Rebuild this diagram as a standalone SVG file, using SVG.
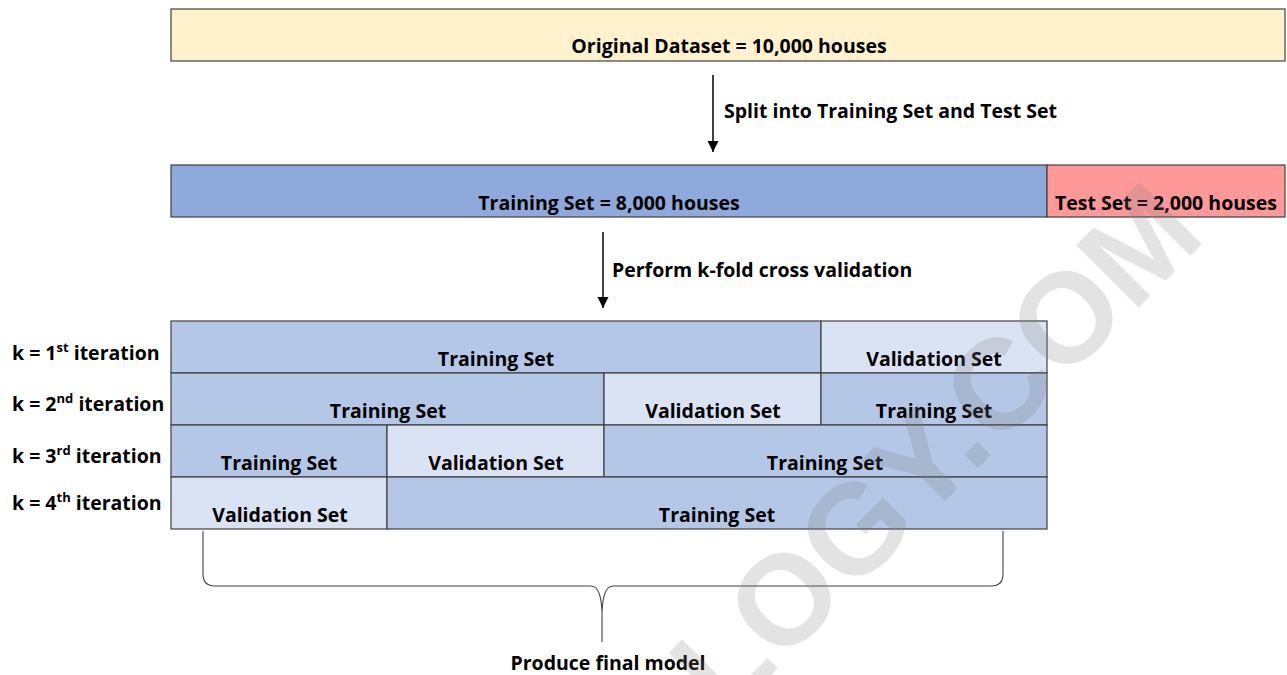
<svg xmlns="http://www.w3.org/2000/svg" width="1287" height="675" viewBox="0 0 1287 675">
  <defs>
    <style>
      .box { stroke: #404040; stroke-width: 1.2; }
      .orig { fill: #FFF2CC; }
      .train-all { fill: #8EA9DB; }
      .test { fill: #FF9999; }
      .tr { fill: #B4C7E7; }
      .va { fill: #DAE3F3; }
      .lbl { font-family: "Open Sans", Lato, sans-serif; font-weight: bold; font-size: 19.5px; fill: #000; }
      .mid { text-anchor: middle; }
      .conn { stroke: #000; stroke-width: 1.5; fill: none; }
      .brace { stroke: #404040; stroke-width: 1.1; fill: none; }
      .wm { font-family: "Liberation Sans", Arial, sans-serif; font-weight: bold; font-size: 128px; fill: #808080; fill-opacity: 0.22; }
    </style>
    <marker id="arrow" markerUnits="userSpaceOnUse" markerWidth="12" markerHeight="14" refX="11" refY="5.5" orient="auto">
      <path d="M0,0 L11,5.5 L0,11 Z" fill="#000"/>
    </marker>
  </defs>

  <rect width="1287" height="675" fill="#fff"/>

  <!-- Full dataset -->
  <g id="original-dataset">
    <rect class="box orig" x="171" y="9" width="1114" height="52"/>
    <text class="lbl mid" x="729" y="53">Original Dataset = 10,000 houses</text>
  </g>

  <!-- Train / test split -->
  <g id="training-set">
    <rect class="box train-all" x="171" y="165" width="876" height="52"/>
    <text class="lbl mid" x="609" y="210">Training Set = 8,000 houses</text>
  </g>
  <g id="test-set">
    <rect class="box test" x="1047" y="165" width="238" height="52"/>
    <text class="lbl mid" x="1166" y="210">Test Set = 2,000 houses</text>
  </g>

  <!-- Fold iterations -->
  <g id="iteration-1">
    <rect class="box tr" x="171" y="321" width="650" height="52"/>
    <rect class="box va" x="821" y="321" width="226" height="52"/>
    <text class="lbl mid" x="496" y="366">Training Set</text>
    <text class="lbl mid" x="934" y="366">Validation Set</text>
    <text class="lbl" x="12" y="360">k = 1<tspan font-size="13" dy="-8">st</tspan><tspan dy="8"> iteration</tspan></text>
  </g>
  <g id="iteration-2">
    <rect class="box tr" x="171" y="373" width="433" height="52"/>
    <rect class="box va" x="604" y="373" width="217" height="52"/>
    <rect class="box tr" x="821" y="373" width="226" height="52"/>
    <text class="lbl mid" x="388" y="418">Training Set</text>
    <text class="lbl mid" x="713" y="418">Validation Set</text>
    <text class="lbl mid" x="934" y="418">Training Set</text>
    <text class="lbl" x="12" y="411">k = 2<tspan font-size="13" dy="-8">nd</tspan><tspan dy="8"> iteration</tspan></text>
  </g>
  <g id="iteration-3">
    <rect class="box tr" x="171" y="425" width="216" height="52"/>
    <rect class="box va" x="387" y="425" width="217" height="52"/>
    <rect class="box tr" x="604" y="425" width="443" height="52"/>
    <text class="lbl mid" x="279" y="470">Training Set</text>
    <text class="lbl mid" x="496" y="470">Validation Set</text>
    <text class="lbl mid" x="825" y="470">Training Set</text>
    <text class="lbl" x="12" y="463">k = 3<tspan font-size="13" dy="-8">rd</tspan><tspan dy="8"> iteration</tspan></text>
  </g>
  <g id="iteration-4">
    <rect class="box va" x="171" y="477" width="216" height="52"/>
    <rect class="box tr" x="387" y="477" width="660" height="52"/>
    <text class="lbl mid" x="280" y="522">Validation Set</text>
    <text class="lbl mid" x="717" y="522">Training Set</text>
    <text class="lbl" x="12" y="510">k = 4<tspan font-size="13" dy="-8">th</tspan><tspan dy="8"> iteration</tspan></text>
  </g>

  <!-- Final model label -->
  <g id="final-model">
    <text class="lbl mid" x="608" y="670">Produce final model</text>
  </g>

  <!-- Connectors -->
  <g id="connectors">
    <line class="conn" x1="713" y1="75" x2="713" y2="152" marker-end="url(#arrow)"/>
    <text class="lbl" x="724" y="118">Split into Training Set and Test Set</text>
    <line class="conn" x1="603" y1="232" x2="603" y2="308" marker-end="url(#arrow)"/>
    <text class="lbl" x="612" y="277">Perform k-fold cross validation</text>
    <path class="brace" d="M203,531 L203,574 Q203,586 215,586 L591,586 Q601,586 602,612 L602,642 M602,612 Q603,586 613,586 L991,586 Q1003,586 1003,574 L1003,531"/>
  </g>

  <!-- Watermark -->
  <text class="wm" text-anchor="end" transform="translate(1208,238) rotate(-45)">LOGY.COM</text>
</svg>
